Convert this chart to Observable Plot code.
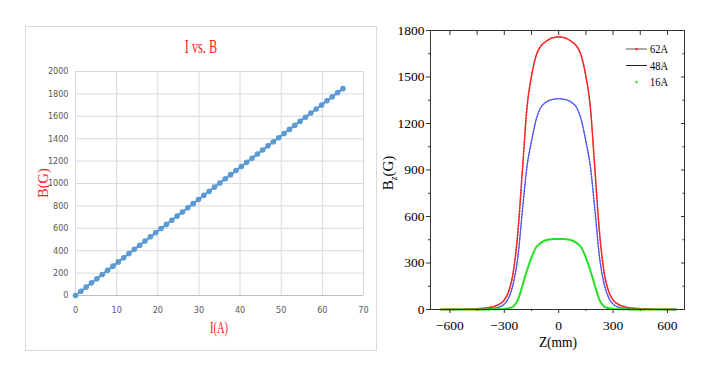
<!DOCTYPE html>
<html><head><meta charset="utf-8">
<script src="https://cdn.jsdelivr.net/npm/d3@7"></script>
<script src="https://cdn.jsdelivr.net/npm/@observablehq/plot@0.6"></script>
<style>
html,body{margin:0;padding:0;background:#fff;}
#root{position:relative;width:714px;height:372px;overflow:hidden;background:#fff;}
.abs{position:absolute;}
#leftBox{left:25px;top:26px;width:352px;height:325px;border:1px solid #d9d9d9;box-sizing:border-box;}
.red{color:#ff1a1a;font-family:"Liberation Serif","Times New Roman",serif;white-space:nowrap;line-height:1;}
.ser{font-family:"Liberation Serif","Times New Roman",serif;color:#000;white-space:nowrap;line-height:1;}
</style>
</head><body>
<div id="root">
  <div id="leftBox" class="abs"></div>
  <div id="leftPlot" class="abs" style="left:25px;top:26px;"></div>
  <div id="rightPlot" class="abs" style="left:380px;top:0px;"></div>
  <div class="abs red" style="left:201px;top:47px;font-size:18px;transform:translate(-50%,-50%) scaleX(0.68);">I vs. B</div>
  <div class="abs red" style="left:43px;top:183px;font-size:14.5px;transform:translate(-50%,-50%) rotate(-90deg);">B(G)</div>
  <div class="abs red" style="left:219px;top:328px;font-size:16px;transform:translate(-50%,-50%) scaleX(0.66);">I(A)</div>
  <div class="abs ser" style="left:390px;top:173px;font-size:15px;transform:translate(-50%,-50%) rotate(-90deg);">B<sub style="font-size:9.5px;font-style:italic;">z</sub>(G)</div>
  <div class="abs ser" style="left:558px;top:342px;font-size:15px;transform:translate(-50%,-50%) scaleX(0.9);">Z(mm)</div>
  <div id="legend" class="abs" style="left:620px;top:38px;"></div>
</div>
<script>
// ---- Left chart data: I vs. B ----
const I_A = [0,1.3,2.6,3.9,5.2,6.5,7.8,9.1,10.4,11.7,13,14.3,15.6,16.9,18.2,19.5,20.8,22.1,23.4,24.7,26,27.3,28.6,29.9,31.2,32.5,33.8,35.1,36.4,37.7,39,40.3,41.6,42.9,44.2,45.5,46.8,48.1,49.4,50.7,52,53.3,54.6,55.9,57.2,58.5,59.8,61.1,62.4,63.7,65];
const B_G = [0,38,75,113,150,188,225,262,300,337,374,412,449,486,524,561,598,635,672,709,746,783,820,857,894,931,968,1005,1042,1079,1116,1152,1189,1226,1263,1299,1336,1373,1409,1446,1483,1519,1556,1592,1629,1665,1701,1738,1774,1811,1847];
const leftXTicks = [0,10,20,30,40,50,60,70];
const leftYTicks = [0,200,400,600,800,1000,1200,1400,1600,1800,2000];

// ---- Right chart data: Bz vs Z ----
const Z_mm = [-650,-625,-600,-575,-550,-525,-500,-475,-450,-425,-400,-375,-350,-325,-300,-275,-250,-225,-200,-175,-150,-125,-100,-75,-50,-25,0,25,50,75,100,125,150,175,200,225,250,275,300,325,350,375,400,425,450,475,500,525,550,575,600,625,650];
const Bz62 = [0,1,1,1,2,2,3,4,5,7,10,14,22,36,62,120,245,500,900,1300,1505,1635,1697,1725,1745,1755,1758,1755,1745,1725,1697,1635,1505,1300,900,500,245,120,62,36,22,14,10,7,5,4,3,2,2,1,1,1,0];
const Bz48 = [0,0,0,0,0,1,1,1,2,3,4,6,9,17,35,78,170,340,640,920,1085,1222,1300,1333,1350,1357,1360,1357,1350,1333,1300,1222,1085,920,640,340,170,78,35,17,9,6,4,3,2,1,1,1,0,0,0,0,0];
const Bz16 = [0,0,0,0,0,0,0,0,0,0,0,1,1,2,4,8,20,62,152,252,335,400,428,445,452,455,455,455,452,445,428,400,335,252,152,62,20,8,4,2,1,1,0,0,0,0,0,0,0,0,0,0,0];
const seriesNames = ["62A","48A","16A"];
const zMajorTicks = [-600,-300,0,300,600];
const zMinorTicks = [-450,-150,150,450];
const bMajorTicks = [0,300,600,900,1200,1500,1800];
const bMinorTicks = [150,450,750,1050,1350,1650];

const fmt = d3.format("d");
const serif = '"Liberation Serif","Times New Roman",serif';

// Left chart
const leftData = I_A.map((x, i) => ({I: x, B: B_G[i]}));
const left = Plot.plot({
  width: 352, height: 325,
  marginLeft: 50, marginRight: 14, marginTop: 45, marginBottom: 56,
  style: {fontFamily: '"Liberation Sans Narrow","DejaVu Sans Condensed",sans-serif', fontSize: "9px", color: "#595959", background: "transparent"},
  x: {domain: [0, 70], axis: null},
  y: {domain: [0, 2000], axis: null},
  marks: [
    Plot.gridX(leftXTicks, {stroke: "#d9d9d9", strokeOpacity: 1}),
    Plot.gridY(leftYTicks, {stroke: "#d9d9d9", strokeOpacity: 1}),
    Plot.ruleY([0], {stroke: "#bfbfbf"}),
    Plot.axisX(leftXTicks, {tickSize: 0, tickPadding: 11, tickFormat: fmt, label: null}),
    Plot.axisY(leftYTicks, {tickSize: 0, tickPadding: 7, tickFormat: fmt, label: null}),
    Plot.line(leftData, {x: "I", y: "B", stroke: "#5b9bd5", strokeWidth: 2.2}),
    Plot.dot(leftData, {x: "I", y: "B", r: 2.8, fill: "#5b9bd5", stroke: "none"})
  ]
});
document.getElementById("leftPlot").appendChild(left);

// Right chart
const rows = (vals, s) => Z_mm.map((z, i) => ({z, B: vals[i], s}));
const r62 = rows(Bz62, seriesNames[0]);
const r48 = rows(Bz48, seriesNames[1]);
const r16 = rows(Bz16, seriesNames[2]);
const ax = "#333";
const right = Plot.plot({
  width: 334, height: 372,
  marginLeft: 50, marginRight: 30, marginTop: 30, marginBottom: 63,
  style: {fontFamily: serif, fontSize: "13.5px", color: "#000", background: "transparent"},
  x: {domain: [-707, 694], axis: null},
  y: {domain: [0, 1800], axis: null},
  marks: [
    Plot.line(r48, {x: "z", y: "B", stroke: "#999", strokeWidth: 0.8, curve: "monotone-x"}),
    Plot.line(r48, {x: "z", y: "B", stroke: "#4d4dff", strokeWidth: 1.4, strokeDasharray: "1.5,1.5", curve: "monotone-x"}),
    Plot.line(r62, {x: "z", y: "B", stroke: "#999", strokeWidth: 0.8, curve: "monotone-x"}),
    Plot.line(r62, {x: "z", y: "B", stroke: "#ff2020", strokeWidth: 1.6, strokeDasharray: "1.6,1.4", curve: "monotone-x"}),
    Plot.line(r16, {x: "z", y: "B", stroke: "#22e022", strokeWidth: 2, curve: "monotone-x"}),
    Plot.frame({stroke: ax, strokeWidth: 1}),
    Plot.axisX(zMajorTicks, {anchor: "bottom", tickSize: 4, tickPadding: 7, tickFormat: fmt, label: null, stroke: ax, fontSize: 13.5, fontFamily: serif, fill: "#000"}),
    Plot.axisX(zMinorTicks, {anchor: "bottom", tickSize: 2, tickFormat: () => "", label: null, stroke: ax}),
    Plot.axisX(zMajorTicks, {anchor: "top", tickSize: 4, dy: 4, tickFormat: () => "", label: null, stroke: ax}),
    Plot.axisX(zMinorTicks, {anchor: "top", tickSize: 4, dy: 4, tickFormat: () => "", label: null, stroke: ax}),
    Plot.axisY(bMajorTicks, {anchor: "left", tickSize: 4, tickPadding: 2, tickFormat: fmt, label: null, stroke: ax, fontSize: 13.5, fontFamily: serif, fill: "#000"}),
    Plot.axisY(bMinorTicks, {anchor: "left", tickSize: 2, tickFormat: () => "", label: null, stroke: ax}),
    Plot.axisY(bMajorTicks, {anchor: "right", tickSize: 4, dx: -4, tickFormat: () => "", label: null, stroke: ax}),
    Plot.axisY(bMinorTicks, {anchor: "right", tickSize: 2.5, dx: -2.5, tickFormat: () => "", label: null, stroke: ax})
  ]
});
document.getElementById("rightPlot").appendChild(right);

// Legend
const legendStyles = [
  {line: "#555", dot: "#ff2020"},
  {line: "#222", dot: null},
  {line: null, dot: "#22e022"}
];
const ns = "http://www.w3.org/2000/svg";
const lsvg = document.createElementNS(ns, "svg");
lsvg.setAttribute("width", "70");
lsvg.setAttribute("height", "55");
seriesNames.forEach((name, i) => {
  const y = 11 + i * 16.5;
  const st = legendStyles[i];
  if (st.line) {
    const l = document.createElementNS(ns, "line");
    l.setAttribute("x1", 6); l.setAttribute("x2", 27);
    l.setAttribute("y1", y); l.setAttribute("y2", y);
    l.setAttribute("stroke", st.line); l.setAttribute("stroke-width", "1");
    lsvg.appendChild(l);
  }
  if (st.dot) {
    const c = document.createElementNS(ns, "circle");
    c.setAttribute("cx", 16.5); c.setAttribute("cy", y); c.setAttribute("r", 1.2);
    c.setAttribute("fill", st.dot);
    lsvg.appendChild(c);
  }
  const t = document.createElementNS(ns, "text");
  t.setAttribute("x", 30); t.setAttribute("y", y + 4.5);
  t.setAttribute("font-family", serif);
  t.setAttribute("font-size", "13");
  t.setAttribute("fill", "#000");
  t.setAttribute("transform", `translate(${30 * 0.2},0) scale(0.8,1)`);
  t.textContent = name;
  lsvg.appendChild(t);
});
document.getElementById("legend").appendChild(lsvg);
</script>
</body></html>
